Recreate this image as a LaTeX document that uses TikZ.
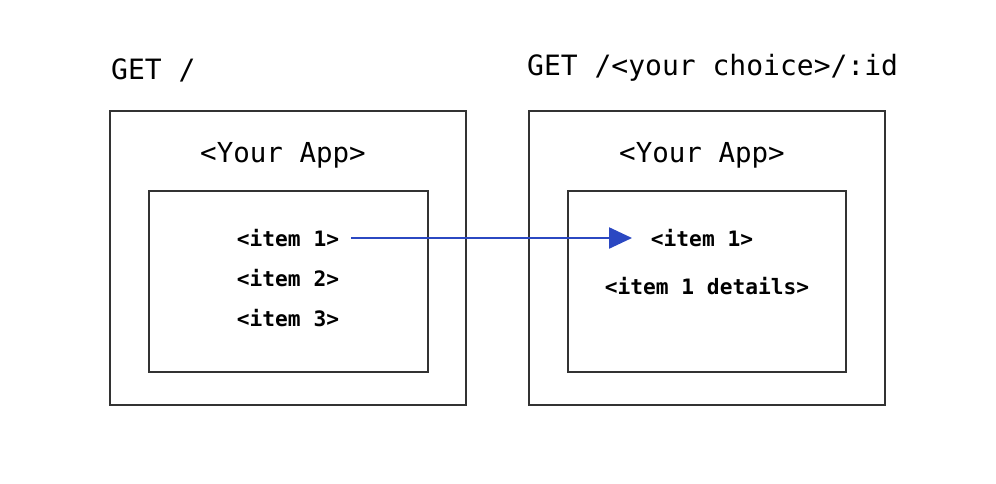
\documentclass[tikz,border=0pt]{standalone}
\usepackage{fontspec}
\setmonofont{DejaVu Sans Mono}
\usetikzlibrary{arrows.meta}
\definecolor{boxc}{HTML}{333333}
\definecolor{arrc}{HTML}{2B48C2}
\begin{document}
\begin{tikzpicture}[x=1pt,y=-1pt,
  frame/.style={draw=boxc,line width=1.4pt},
  title/.style={font=\ttfamily\fontsize{28}{31}\selectfont,anchor=west,inner sep=0pt},
  app/.style={font=\ttfamily\fontsize{27.5}{30}\selectfont,inner sep=0pt},
  itm/.style={font=\ttfamily\bfseries\fontsize{21.2}{24}\selectfont,inner sep=0pt},
  link/.style={draw=arrc,line width=2.4pt,-{Triangle[length=23pt,width=21pt]}}]
\useasboundingbox[fill=white] (0,0) rectangle (996,484);
\draw[frame] (110,111) rectangle (466,405);
\draw[frame] (149,191) rectangle (428,372);
\draw[frame] (529,111) rectangle (885,405);
\draw[frame] (568,191) rectangle (846,372);
\node[title] (t1) at (111,70) {GET /};
\node[title] (t2) at (527,68) {GET /<your choice>/:id};
\node[app] (a1) at (283,155) {<Your App>};
\node[app] (a2) at (702,155) {<Your App>};
\node[itm] (i1) at (288,238) {<item 1>};
\node[itm] (i2) at (288,278) {<item 2>};
\node[itm] (i3) at (288,318) {<item 3>};
\node[itm] (r1) at (702,238) {<item 1>};
\node[itm] (r2) at (707,286) {<item 1 details>};
\coordinate (tip) at (632,238);
\draw[link] ([xshift=12pt]i1.east) -- (tip);
\end{tikzpicture}
\end{document}
